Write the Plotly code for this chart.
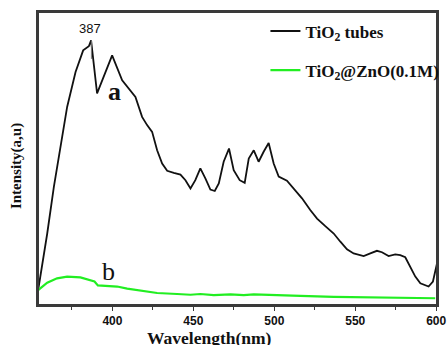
import plotly.graph_objects as go

# Wavelength (nm) and intensity (a.u.)
wl_a = [354.1, 359.7, 363.8, 366.9, 372.0, 377.2, 381.9, 385.4, 386.8, 390.5, 399.8,
        406.0, 410.0, 414.2, 418.3, 421.4, 424.5, 427.6, 430.7, 433.8, 437.9, 442.0,
        445.1, 448.2, 451.2, 454.3, 457.4, 460.5, 463.2, 465.7, 468.7, 472.0, 474.9,
        478.6, 481.7, 484.2, 487.3, 490.3, 493.4, 496.5, 499.6, 502.7, 507.8, 512.0,
        517.1, 522.2, 526.4, 531.5, 536.7, 540.8, 544.9, 549.0, 555.2, 559.3, 563.4,
        566.5, 570.6, 574.7, 577.8, 580.9, 584.0, 587.1, 590.2, 595.3, 598.0, 600.5]
int_a = [5.1, 24.4, 40.3, 50.6, 67.6, 79.5, 86.9, 88.3, 90.3, 72.2, 85.2,
         76.7, 73.9, 71.0, 64.2, 61.4, 59.1, 52.8, 48.3, 45.8, 45.1, 44.5,
         42.6, 39.8, 42.6, 46.6, 43.2, 39.4, 38.9, 41.5, 48.9, 53.4, 46.0,
         42.6, 41.7, 50.0, 52.8, 48.9, 52.3, 55.3, 48.3, 43.8, 42.4, 39.8,
         36.4, 32.4, 29.5, 26.9, 24.4, 21.6, 19.0, 17.6, 16.7, 17.6, 18.5,
         18.0, 16.7, 17.3, 17.0, 16.3, 13.1, 9.7, 7.4, 6.3, 8.0, 14.2]

wl_b = [354.1, 359.7, 365.8, 372.0, 380.2, 386.4, 388.9, 391.0, 396.7, 402.9, 409.1,
        419.3, 427.6, 439.9, 448.2, 454.3, 462.6, 472.9, 481.1, 487.3, 497.6, 505.8,
        516.1, 536.7, 557.2, 577.8, 599.4]
int_b = [5.1, 7.6, 9.1, 9.7, 9.4, 8.5, 8.0, 6.7, 6.6, 6.3, 5.6,
         4.8, 4.1, 3.75, 3.5, 3.75, 3.4, 3.6, 3.4, 3.6, 3.5, 3.3,
         3.1, 2.8, 2.7, 2.5, 2.3]

name_a = "TiO<sub>2</sub> tubes"
name_b = "TiO<sub>2</sub>@ZnO(0.1M)"
x_ticks = [400, 450, 500, 550, 600]
x_minor = [375, 425, 475, 525, 575]
peak_label = "387"
peak_x = 387
peak_marker = [84.0, 90.3]

serif = "Liberation Serif, Times New Roman, serif"
sans = "Liberation Sans, Arial, sans-serif"
frame = "#3a3a3a"

fig = go.Figure()
fig.add_trace(go.Scatter(x=wl_a, y=int_a, mode="lines", name=name_a, legendgroup="a",
                         line=dict(color="#111111", width=1.8)))
fig.add_trace(go.Scatter(x=wl_b, y=int_b, mode="lines", name=name_b, legendgroup="b",
                         line=dict(color="#22ee22", width=2.2)))

fig.add_shape(type="line", x0=peak_x, x1=peak_x, y0=peak_marker[0], y1=peak_marker[1],
              xref="x", yref="y", line=dict(color="#777777", width=1))
fig.add_shape(type="rect", x0=0, x1=1, y0=0, y1=1, xref="paper", yref="paper",
              line=dict(color=frame, width=2), layer="above")
fig.add_annotation(x=peak_x, y=peak_marker[1], text=peak_label, showarrow=False,
                   yanchor="bottom", yshift=2, xshift=-1,
                   font=dict(family=sans, size=13, color="#111111"))
fig.add_annotation(x=401.5, y=73, text="<b>a</b>", showarrow=False,
                   font=dict(family=serif, size=26, color="#111111"))
fig.add_annotation(x=397.5, y=11.5, text="b", showarrow=False,
                   font=dict(family=serif, size=26, color="#111111"))
# axis titles
fig.add_annotation(x=0.43, y=-0.07, xref="paper", yref="paper", text="<b>Wavelength(nm)</b>",
                   showarrow=False, xanchor="center", yanchor="top",
                   font=dict(family=serif, size=17.5, color="#111111"))
fig.add_annotation(x=-0.052, y=0.475, xref="paper", yref="paper", text="<b>Intensity(a,u)</b>",
                   showarrow=False, textangle=-90, xanchor="center", yanchor="middle",
                   font=dict(family=serif, size=15, color="#111111"))

fig.update_layout(
    width=447, height=345,
    margin=dict(l=38, r=10, t=12, b=40, autoexpand=False),
    paper_bgcolor="white", plot_bgcolor="white",
    showlegend=True,
    legend=dict(x=0.57, y=0.995, xanchor="left", yanchor="top",
                bgcolor="rgba(0,0,0,0)", borderwidth=0,
                tracegroupgap=14,
                font=dict(family=serif, size=17, color="#111111", weight="bold")),
    xaxis=dict(range=[354, 600.5], tickvals=x_ticks, ticks="outside", ticklen=4,
               tickcolor=frame, showgrid=False, zeroline=False, automargin=False,
               showline=True, mirror=True, linecolor=frame, linewidth=2,
               tickfont=dict(family=sans, size=12, color="#111111", weight="bold"),
               minor=dict(tickvals=x_minor, ticks="outside", ticklen=3, tickcolor=frame)),
    yaxis=dict(range=[0, 100], showticklabels=False, ticks="", showgrid=False,
               zeroline=False, showline=True, mirror=True, linecolor=frame, linewidth=2,
               automargin=False),
)

fig.write_html("out.html", config={"displayModeBar": False},
               post_script="document.body.style.margin='0';document.body.style.overflow='hidden';")
